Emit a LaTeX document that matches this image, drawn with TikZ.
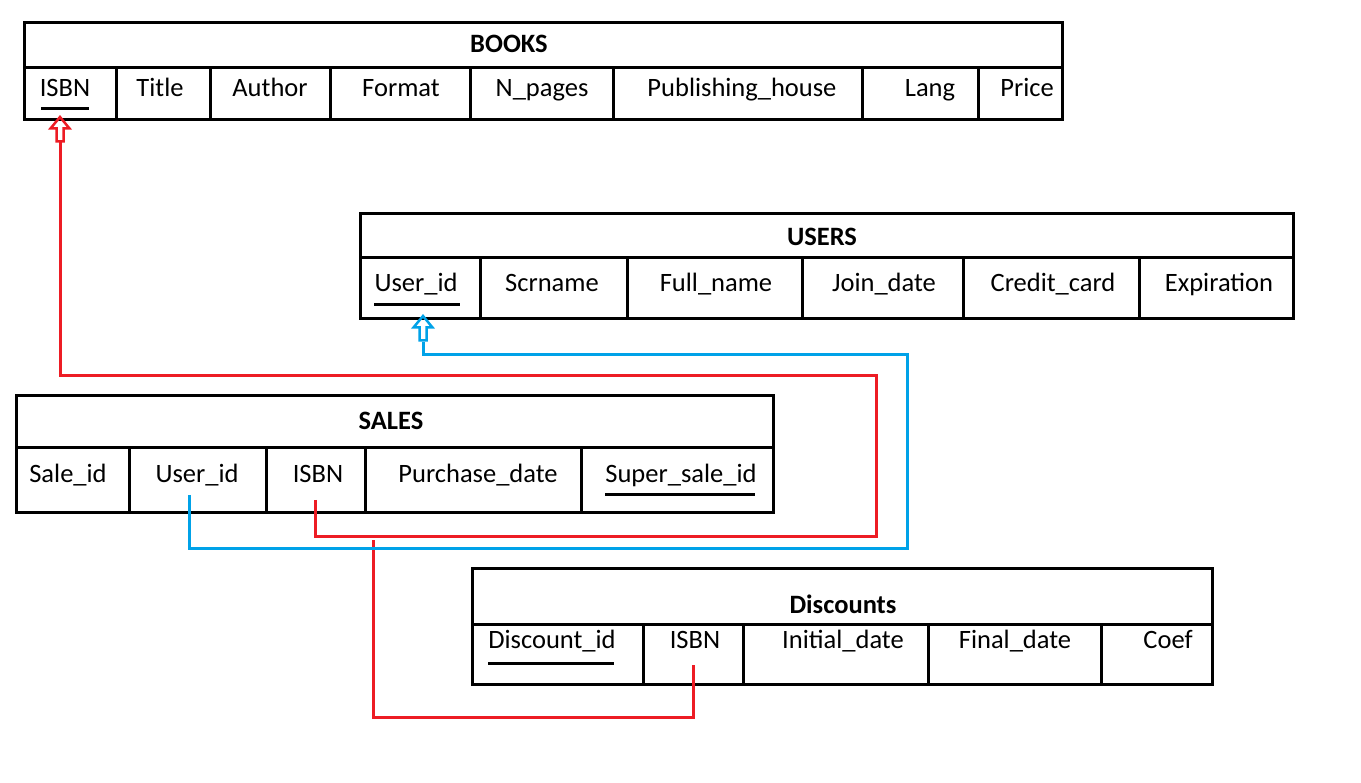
\documentclass[tikz,border=0pt]{standalone}
\usepackage{fontspec}
\setmainfont{Carlito}
\usetikzlibrary{positioning}
\definecolor{fkred}{RGB}{237,28,36}
\definecolor{fkblue}{RGB}{0,162,232}
\tikzset{
  tbl/.style={line width=3pt},
  col/.style={anchor=base, inner sep=0pt, font=\fontsize{26.5}{30}\selectfont},
  head/.style={col, font=\fontsize{26.5}{30}\selectfont\bfseries},
  keyline/.style={line width=3pt},
  fk/.style={line width=3pt},
}
% hollow block arrow, tip at (#1,#2)
\newcommand{\keyarrow}[3]{%
  \draw[#3, line width=2.5pt, line join=miter]
    (#1,#2) -- ++(-9.5,11.5) -- ++(6,0) -- ++(0,13) -- ++(7,0)
    -- ++(0,-13) -- ++(6,0) -- cycle;}

\begin{document}
\begin{tikzpicture}[x=1pt,y=-1pt]
  \useasboundingbox (0,0) rectangle (1361,783);

  % BOOKS
  \draw[tbl] (24,23) rectangle (1062,120);
  \draw[tbl] (24,68) -- (1062,68);
  \foreach \x in {116,210,330,470,613,862,978}
    \draw[tbl] (\x,68) -- (\x,120);
  \node[head] (books) at (509,53) {BOOKS};
  \node[col] (b-isbn)   at (65,97)   {ISBN};
  \node[col] (b-title)  at (160,97)  {Title};
  \node[col] (b-author) at (270,97)  {Author};
  \node[col] (b-format) at (401,97)  {Format};
  \node[col] (b-pages)  at (542,97)  {N\_pages};
  \node[col] (b-house)  at (742,97)  {Publishing\_house};
  \node[col] (b-lang)   at (930,97)  {Lang};
  \node[col] (b-price)  at (1027,97) {Price};
  \draw[keyline] (41,109) -- (89,109);

  % USERS
  \draw[tbl] (360,214) rectangle (1293,319);
  \draw[tbl] (360,258) -- (1293,258);
  \foreach \x in {480,627,802,963,1139}
    \draw[tbl] (\x,258) -- (\x,319);
  \node[head] (users) at (822,246) {USERS};
  \node[col] (u-id)     at (416,292)  {User\_id};
  \node[col] (u-scr)    at (552,292)  {Scrname};
  \node[col] (u-full)   at (716,292)  {Full\_name};
  \node[col] (u-join)   at (884,292)  {Join\_date};
  \node[col] (u-card)   at (1053,292) {Credit\_card};
  \node[col] (u-exp)    at (1219,292) {Expiration};
  \draw[keyline] (374,305) -- (460,305);

  % SALES
  \draw[tbl] (16,396) rectangle (773,513);
  \draw[tbl] (16,448) -- (773,448);
  \foreach \x in {129,266,365,581}
    \draw[tbl] (\x,448) -- (\x,513);
  \node[head] (sales) at (391,430) {SALES};
  \node[col] (s-id)     at (68,483)  {Sale\_id};
  \node[col] (s-user)   at (197,483) {User\_id};
  \node[col] (s-isbn)   at (318,483) {ISBN};
  \node[col] (s-date)   at (478,483) {Purchase\_date};
  \node[col] (s-super)  at (681,483) {Super\_sale\_id};
  \draw[keyline] (605,495) -- (755,495);

  % Discounts
  \draw[tbl] (472,568) rectangle (1212,684);
  \draw[tbl] (472,624) -- (1212,624);
  \foreach \x in {643,743,928,1101}
    \draw[tbl] (\x,624) -- (\x,684);
  \node[head] (disc) at (843,613) {Discounts};
  \node[col] (d-id)     at (552,648)  {Discount\_id};
  \node[col] (d-isbn)   at (695,648)  {ISBN};
  \node[col] (d-init)   at (843,648)  {Initial\_date};
  \node[col] (d-final)  at (1015,648) {Final\_date};
  \node[col] (d-coef)   at (1168,648) {Coef};
  \draw[keyline] (488,663) -- (614,663);

  % link ends
  \coordinate (b-isbn-in)  at (60,141);
  \coordinate (u-id-in)    at (423,342);
  \coordinate (s-isbn-out) at (315,500);
  \coordinate (s-user-out) at (189,495);
  \coordinate (d-isbn-out) at (693,665);
  \coordinate (s-isbn-fork) at (373,540);

  % links
  \draw[fk, fkred] (s-isbn-out) -- (315,536) -- (876,536) -- (876,376)
    -- (60,376) -- (b-isbn-in);
  \keyarrow{60}{117}{fkred}
  \draw[fk, fkred] (s-isbn-fork) -- (373,717) -- (693,717) -- (d-isbn-out);
  \draw[fk, fkblue] (s-user-out) -- (189,548) -- (907,548) -- (907,355)
    -- (423,355) -- (u-id-in);
  \keyarrow{423}{316}{fkblue}
\end{tikzpicture}
\end{document}
